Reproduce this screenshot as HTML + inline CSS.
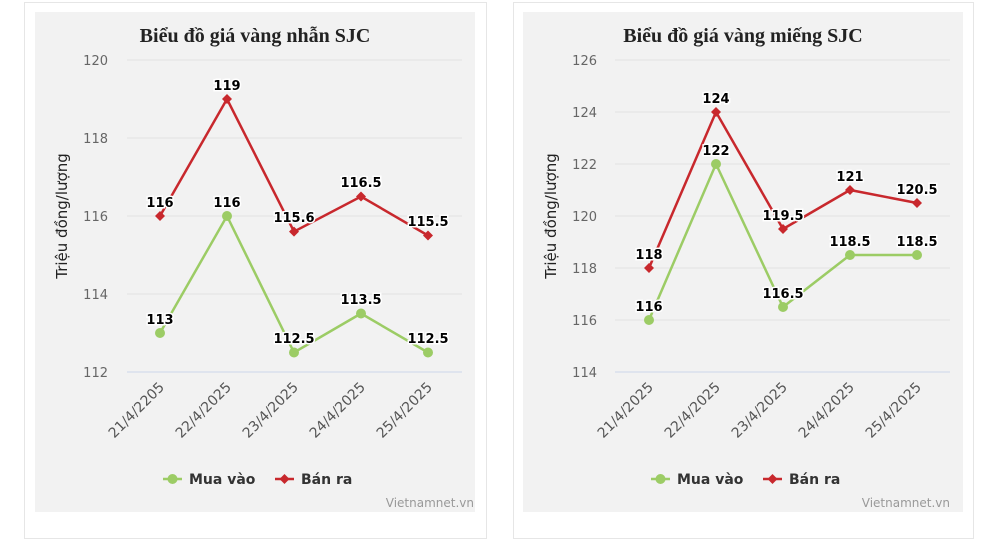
<!DOCTYPE html>
<html><head><meta charset="utf-8"><style>
html,body{margin:0;padding:0;background:#fff;width:987px;height:543px;overflow:hidden}
svg{display:block}
.t{font-family:"Liberation Serif",serif;font-weight:bold;font-size:20px;fill:#222}
.yl{font-family:"DejaVu Sans",sans-serif;font-size:13px;fill:#666}
.xl{font-family:"DejaVu Sans",sans-serif;font-size:14px;fill:#555}
.dl{font-family:"DejaVu Sans",sans-serif;font-size:13px;font-weight:bold;fill:#000;stroke:#fff;stroke-width:3;paint-order:stroke}
.lg{font-family:"DejaVu Sans",sans-serif;font-size:14px;font-weight:bold;fill:#333}
.yt{font-family:"DejaVu Sans",sans-serif;font-size:15px;fill:#222}
.wm{font-family:"DejaVu Sans",sans-serif;font-size:12px;fill:#999}
</style></head><body>
<svg width="987" height="543" viewBox="0 0 987 543">
<rect x="24.5" y="2.5" width="462" height="536" fill="#fff" stroke="#e6e6e6"/>
<rect x="513.5" y="2.5" width="460" height="536" fill="#fff" stroke="#e6e6e6"/>
<rect x="35" y="12" width="440" height="500" fill="#f2f2f2"/>
<rect x="523" y="12" width="440" height="500" fill="#f2f2f2"/>

<!-- LEFT -->
<text class="t" x="255" y="42" text-anchor="middle">Biểu đồ giá vàng nhẫn SJC</text>
<g stroke="#e2e2e2"><line x1="127" x2="462" y1="60" y2="60"/><line x1="127" x2="462" y1="138" y2="138"/><line x1="127" x2="462" y1="216" y2="216"/><line x1="127" x2="462" y1="294" y2="294"/></g>
<line x1="127" x2="462" y1="372" y2="372" stroke="#ccd6eb"/>
<g class="yl" text-anchor="end"><text x="108" y="65">120</text><text x="108" y="143">118</text><text x="108" y="221">116</text><text x="108" y="299">114</text><text x="108" y="377">112</text></g>
<text class="yt" transform="translate(67,216) rotate(-90)" text-anchor="middle">Triệu đồng/lượng</text>
<g class="xl" text-anchor="end">
<text transform="translate(165,388) rotate(-45)">21/4/2205</text>
<text transform="translate(232,388) rotate(-45)">22/4/2025</text>
<text transform="translate(299,388) rotate(-45)">23/4/2025</text>
<text transform="translate(366,388) rotate(-45)">24/4/2025</text>
<text transform="translate(433,388) rotate(-45)">25/4/2025</text>
</g>
<polyline points="160,216 227,99 294,231.6 361,196.5 428,235.5" fill="none" stroke="#c8282d" stroke-width="2.5"/>
<polyline points="160,333 227,216 294,352.5 361,313.5 428,352.5" fill="none" stroke="#9ccc65" stroke-width="2.5"/>
<g fill="#c8282d"><path d="M160 211l5 5-5 5-5-5z"/><path d="M227 94l5 5-5 5-5-5z"/><path d="M294 226.6l5 5-5 5-5-5z"/><path d="M361 191.5l5 5-5 5-5-5z"/><path d="M428 230.5l5 5-5 5-5-5z"/></g>
<g fill="#9ccc65"><circle cx="160" cy="333" r="5"/><circle cx="227" cy="216" r="5"/><circle cx="294" cy="352.5" r="5"/><circle cx="361" cy="313.5" r="5"/><circle cx="428" cy="352.5" r="5"/></g>
<g class="dl" text-anchor="middle">
<text x="160" y="207">116</text><text x="227" y="90">119</text><text x="294" y="222">115.6</text><text x="361" y="187">116.5</text><text x="428" y="226">115.5</text>
<text x="160" y="324">113</text><text x="227" y="207">116</text><text x="294" y="343">112.5</text><text x="361" y="304">113.5</text><text x="428" y="343">112.5</text>
</g>
<line x1="163" x2="182" y1="479" y2="479" stroke="#9ccc65" stroke-width="2.5"/><circle cx="172.5" cy="479" r="5" fill="#9ccc65"/>
<text class="lg" x="189" y="484">Mua vào</text>
<line x1="275" x2="294" y1="479" y2="479" stroke="#c8282d" stroke-width="2.5"/><path d="M284.5 474l5 5-5 5-5-5z" fill="#c8282d"/>
<text class="lg" x="301" y="484">Bán ra</text>
<text class="wm" x="474" y="507" text-anchor="end">Vietnamnet.vn</text>

<!-- RIGHT -->
<text class="t" x="743" y="42" text-anchor="middle">Biểu đồ giá vàng miếng SJC</text>
<g stroke="#e2e2e2"><line x1="615" x2="950" y1="60" y2="60"/><line x1="615" x2="950" y1="112" y2="112"/><line x1="615" x2="950" y1="164" y2="164"/><line x1="615" x2="950" y1="216" y2="216"/><line x1="615" x2="950" y1="268" y2="268"/><line x1="615" x2="950" y1="320" y2="320"/></g>
<line x1="615" x2="950" y1="372" y2="372" stroke="#ccd6eb"/>
<g class="yl" text-anchor="end"><text x="597" y="65">126</text><text x="597" y="117">124</text><text x="597" y="169">122</text><text x="597" y="221">120</text><text x="597" y="273">118</text><text x="597" y="325">116</text><text x="597" y="377">114</text></g>
<text class="yt" transform="translate(556,216) rotate(-90)" text-anchor="middle">Triệu đồng/lượng</text>
<g class="xl" text-anchor="end">
<text transform="translate(654,388) rotate(-45)">21/4/2025</text>
<text transform="translate(721,388) rotate(-45)">22/4/2025</text>
<text transform="translate(788,388) rotate(-45)">23/4/2025</text>
<text transform="translate(855,388) rotate(-45)">24/4/2025</text>
<text transform="translate(922,388) rotate(-45)">25/4/2025</text>
</g>
<polyline points="649,268 716,112 783,229 850,190 917,203" fill="none" stroke="#c8282d" stroke-width="2.5"/>
<polyline points="649,320 716,164 783,307 850,255 917,255" fill="none" stroke="#9ccc65" stroke-width="2.5"/>
<g fill="#c8282d"><path d="M649 263l5 5-5 5-5-5z"/><path d="M716 107l5 5-5 5-5-5z"/><path d="M783 224l5 5-5 5-5-5z"/><path d="M850 185l5 5-5 5-5-5z"/><path d="M917 198l5 5-5 5-5-5z"/></g>
<g fill="#9ccc65"><circle cx="649" cy="320" r="5"/><circle cx="716" cy="164" r="5"/><circle cx="783" cy="307" r="5"/><circle cx="850" cy="255" r="5"/><circle cx="917" cy="255" r="5"/></g>
<g class="dl" text-anchor="middle">
<text x="649" y="259">118</text><text x="716" y="103">124</text><text x="783" y="220">119.5</text><text x="850" y="181">121</text><text x="917" y="194">120.5</text>
<text x="649" y="311">116</text><text x="716" y="155">122</text><text x="783" y="298">116.5</text><text x="850" y="246">118.5</text><text x="917" y="246">118.5</text>
</g>
<line x1="651" x2="670" y1="479" y2="479" stroke="#9ccc65" stroke-width="2.5"/><circle cx="660.5" cy="479" r="5" fill="#9ccc65"/>
<text class="lg" x="677" y="484">Mua vào</text>
<line x1="763" x2="782" y1="479" y2="479" stroke="#c8282d" stroke-width="2.5"/><path d="M772.5 474l5 5-5 5-5-5z" fill="#c8282d"/>
<text class="lg" x="789" y="484">Bán ra</text>
<text class="wm" x="950" y="507" text-anchor="end">Vietnamnet.vn</text>
</svg>
</body></html>
